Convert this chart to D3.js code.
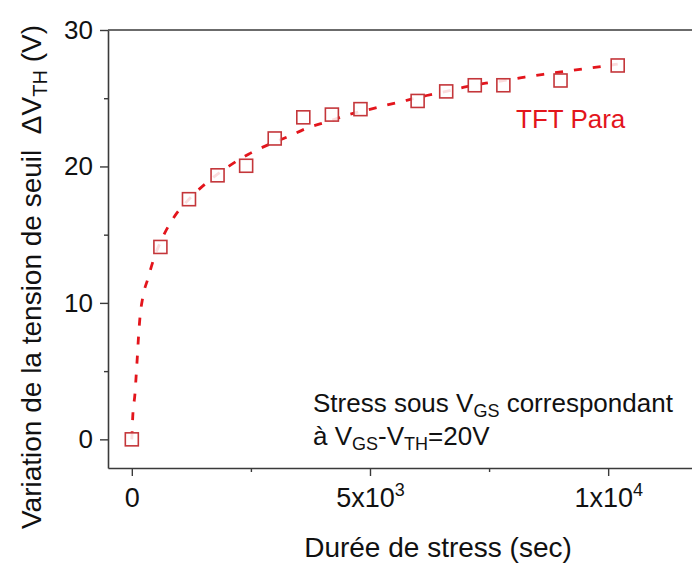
<!DOCTYPE html>
<html>
<head>
<meta charset="utf-8">
<script src="https://cdn.jsdelivr.net/npm/d3@7"></script>
<style>
  html, body { margin: 0; padding: 0; background: #fff; }
  svg { display: block; font-family: "Liberation Sans", Arial, sans-serif; }
</style>
</head>
<body>
<svg id="chart" width="692" height="565"></svg>
<script>
// ---- data ----
const stressTimes = [0, 600, 1200, 1800, 2400, 3000, 3600, 4200, 4800, 6000, 6600, 7200, 7800, 9000, 10200];
const deltaVth    = [0, 14.1, 17.6, 19.35, 20.05, 22.05, 23.6, 23.8, 24.2, 24.8, 25.5, 25.95, 25.95, 26.3, 27.4];

const fitTimes  = [0, 20, 65, 90, 115, 140, 170, 230, 340, 450, 660, 870, 1200, 1640, 2030, 2450, 2870, 3290, 3670, 4130, 4550, 4960, 5350, 5770, 6190, 6600, 7030, 7430, 7830, 8250, 8640, 9060, 9480, 9900, 10200];
const fitValues = [0, 1.7, 3.3, 4.6, 6.0, 7.5, 8.9, 10.4, 11.8, 13.1, 14.9, 16.2, 17.6, 19.0, 20.0, 20.9, 21.6, 22.2, 22.8, 23.3, 23.8, 24.15, 24.5, 24.85, 25.2, 25.5, 25.85, 26.1, 26.3, 26.55, 26.75, 26.95, 27.15, 27.35, 27.5];

const yMajorTicks = [0, 10, 20, 30];
const yMinorTicks = [5, 15, 25];
const xMajorTicks = [0, 5000, 10000];
const xMinorTicks = [2500, 7500];
const xTickLabels = [["0", ""], ["5x10", "3"], ["1x10", "4"]];

const seriesLabel = "TFT Para";

// ---- layout ----
const svg = d3.select("#chart");
const x = d3.scaleLinear().domain([-500, 11760]).range([108, 692]);
const y = d3.scaleLinear().domain([-2.1, 30]).range([468, 30]);

const axisColor = "#3a3a3a";
const lineRed = "#e3151c";
const markerRed = "#c4363a";

// top frame line
svg.append("line")
  .attr("x1", x.range()[0]).attr("x2", x.range()[1])
  .attr("y1", y(30)).attr("y2", y(30))
  .attr("stroke", axisColor).attr("stroke-width", 1.6);

// Y axis
const gy = svg.append("g").attr("transform", `translate(${x.range()[0]},0)`)
  .call(d3.axisLeft(y).tickValues(yMajorTicks).tickSize(8).tickPadding(7).tickSizeOuter(0).tickFormat(d3.format("d")));
svg.append("g").attr("transform", `translate(${x.range()[0]},0)`)
  .call(d3.axisLeft(y).tickValues(yMinorTicks).tickSize(4).tickSizeOuter(0).tickFormat(""))
  .select(".domain").remove();

// X axis
const gx = svg.append("g").attr("transform", `translate(0,${y.range()[0]})`)
  .call(d3.axisBottom(x).tickValues(xMajorTicks).tickSize(8).tickSizeOuter(0).tickFormat(""));
svg.append("g").attr("transform", `translate(0,${y.range()[0]})`)
  .call(d3.axisBottom(x).tickValues(xMinorTicks).tickSize(4).tickSizeOuter(0).tickFormat(""))
  .select(".domain").remove();

svg.selectAll(".domain").attr("stroke", axisColor).attr("stroke-width", 1.6);
svg.selectAll(".tick line").attr("stroke", axisColor).attr("stroke-width", 1.4);

gy.selectAll(".tick text")
  .attr("font-size", 26).attr("fill", "#111")
  .attr("font-family", "Liberation Sans, Arial, sans-serif");

gx.selectAll(".tick text").each(function(d, i) {
  const t = d3.select(this);
  const lab = xTickLabels[xMajorTicks.indexOf(d)];
  t.attr("y", 39).attr("dy", null)
   .attr("font-size", 27).attr("fill", "#111")
   .attr("font-family", "Liberation Sans, Arial, sans-serif")
   .attr("text-anchor", "middle");
  t.text(null);
  t.append("tspan").text(lab[0]);
  if (lab[1]) t.append("tspan").attr("dy", -11).attr("font-size", 18).text(lab[1]);
});

// fitted dashed curve
const line = d3.line()
  .x((d, i) => x(fitTimes[i]))
  .y((d, i) => y(fitValues[i]))
  .curve(d3.curveMonotoneX);
svg.append("path")
  .datum(fitTimes)
  .attr("d", line)
  .attr("fill", "none")
  .attr("stroke", lineRed)
  .attr("stroke-width", 2.8)
  .attr("stroke-dasharray", "8,11");

// markers
const ms = 13;
svg.append("g").selectAll("rect")
  .data(stressTimes)
  .join("rect")
  .attr("x", (d) => x(d) - ms / 2)
  .attr("y", (d, i) => y(deltaVth[i]) - ms / 2)
  .attr("width", ms).attr("height", ms)
  .attr("fill", "rgba(255,255,255,0.85)")
  .attr("stroke", markerRed)
  .attr("stroke-width", 1.6);

// series label
svg.append("text")
  .attr("x", 516).attr("y", 128)
  .attr("font-size", 26).attr("fill", lineRed)
  .text(seriesLabel);

// annotation
const ann1 = svg.append("text").attr("x", 313).attr("y", 412).attr("font-size", 26).attr("fill", "#111");
ann1.append("tspan").text("Stress sous V");
ann1.append("tspan").attr("dy", 5).attr("font-size", 18).text("GS");
ann1.append("tspan").attr("dy", -5).text(" correspondant");

const ann2 = svg.append("text").attr("x", 313).attr("y", 445).attr("font-size", 26).attr("fill", "#111");
ann2.append("tspan").text("à V");
ann2.append("tspan").attr("dy", 5).attr("font-size", 18).text("GS");
ann2.append("tspan").attr("dy", -5).text("-V");
ann2.append("tspan").attr("dy", 5).attr("font-size", 18).text("TH");
ann2.append("tspan").attr("dy", -5).text("=20V");

// axis titles
svg.append("text")
  .attr("x", 438).attr("y", 557)
  .attr("text-anchor", "middle")
  .attr("font-size", 28).attr("fill", "#111")
  .text("Durée de stress (sec)");

const yt = svg.append("text")
  .attr("transform", "translate(41,277) rotate(-90)")
  .attr("text-anchor", "middle")
  .attr("font-size", 28).attr("fill", "#111");
yt.append("tspan").text("Variation de la tension de seuil\u00A0\u00A0ΔV");
yt.append("tspan").attr("dy", 6).attr("font-size", 20).text("TH");
yt.append("tspan").attr("dy", -6).text(" (V)");
</script>
</body>
</html>
